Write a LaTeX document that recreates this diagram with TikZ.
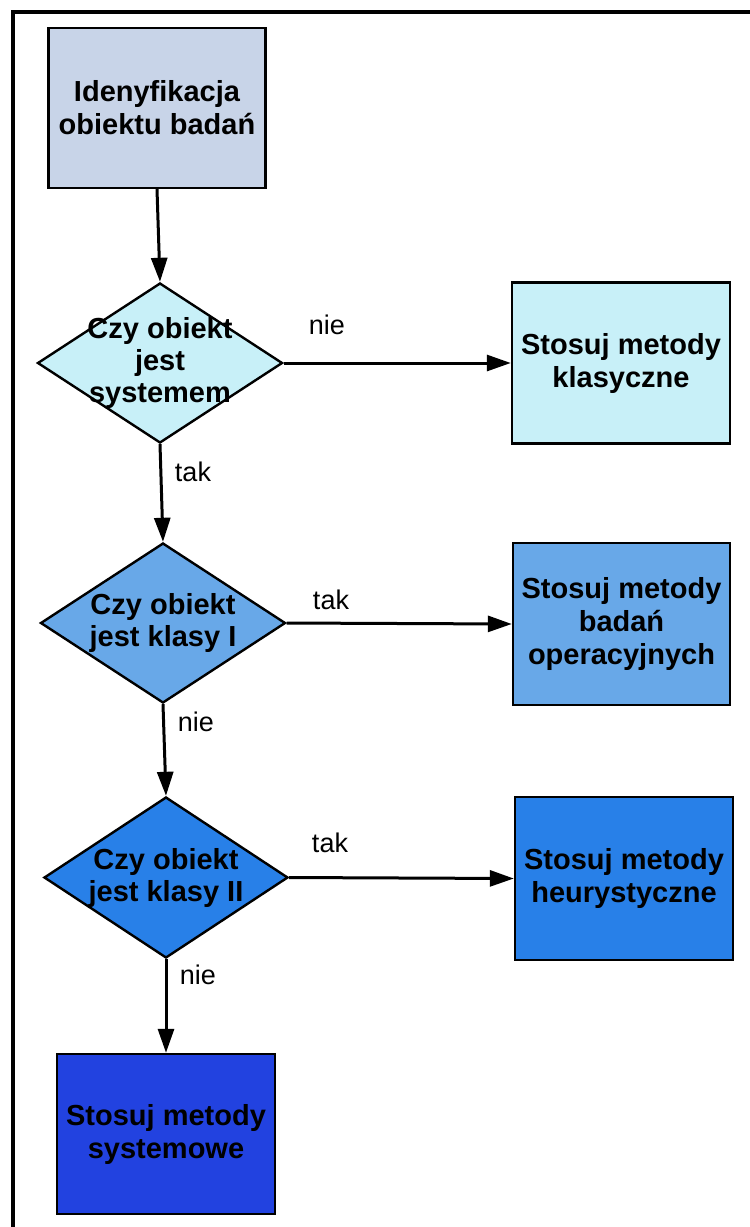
\documentclass[tikz,border=0pt]{standalone}
\usepackage{fontspec}
\setmainfont{Liberation Sans}
\usetikzlibrary{shapes.geometric,arrows.meta}

\definecolor{startfill}{HTML}{C8D4E8}
\definecolor{levelone}{HTML}{C8F0F8}
\definecolor{leveltwo}{HTML}{68A8E8}
\definecolor{levelthree}{HTML}{2880E8}
\definecolor{levelfour}{HTML}{2242E0}

\tikzset{
  stepbox/.style={draw=black, line width=2.4pt, rectangle, inner sep=0pt,
    align=center, font=\bfseries\fontsize{29}{33}\selectfont},
  question/.style={draw=black, line width=2.4pt, diamond, inner sep=0pt},
  qtext/.style={align=center, inner sep=0pt, font=\bfseries\fontsize{29}{32}\selectfont},
  answer/.style={inner sep=0pt, font=\fontsize{27}{30}\selectfont},
  flow/.style={line width=3pt, -{Triangle[length=24pt,width=16pt]}},
  frame/.style={line width=3.2pt}
}

\begin{document}
\begin{tikzpicture}[x=1pt, y=-1pt]
  \useasboundingbox (0,0) rectangle (750,1227);
  \fill[white] (0,0) rectangle (750,1227);

  % open frame: top and left edges only
  \draw[frame] (13,1227) -- (13,12) -- (750,12);

  % process boxes
  \node[stepbox, fill=startfill, minimum width=217pt, minimum height=160pt]
    (start) at (157,108) {Idenyfikacja\\obiektu badań};
  \node[stepbox, fill=levelone, minimum width=218pt, minimum height=161pt]
    (classic) at (621,363) {Stosuj metody\\klasyczne};
  \node[stepbox, fill=leveltwo, minimum width=217pt, minimum height=162pt]
    (operational) at (621.5,624) {Stosuj metody\\badań\\operacyjnych};
  \node[stepbox, fill=levelthree, minimum width=218pt, minimum height=163pt]
    (heuristic) at (624,878.5) {Stosuj metody\\heurystyczne};
  \node[stepbox, fill=levelfour, minimum width=218pt, minimum height=160pt]
    (systemic) at (166,1134) {Stosuj metody\\systemowe};

  % decisions
  \node[question, fill=levelone, minimum width=245pt, minimum height=160pt]
    (q1) at (160,363) {};
  \node[qtext] (q1t) at (q1.center) {Czy obiekt\\jest\\systemem};
  \node[question, fill=leveltwo, minimum width=245pt, minimum height=160pt]
    (q2) at (163,623) {};
  \node[qtext] (q2t) at (q2.center) {Czy obiekt\\jest klasy I};
  \node[question, fill=levelthree, minimum width=244pt, minimum height=161pt]
    (q3) at (166,877.5) {};
  \node[qtext] (q3t) at (q3.center) {Czy obiekt\\jest klasy II};

  % connectors
  \draw[flow] (start.south) -- (q1.north);
  \draw[flow] (q1.east) -- (classic.west);
  \draw[flow] (q1.south) -- (q2.north);
  \draw[flow] (q2.east) -- (operational.west);
  \draw[flow] (q2.south) -- (q3.north);
  \draw[flow] (q3.east) -- (heuristic.west);
  \draw[flow] (q3.south) -- (systemic.north);

  % branch labels
  \node[answer] (a1) at (327,325) {nie};
  \node[answer] (a2) at (193,472) {tak};
  \node[answer] (a3) at (331,600) {tak};
  \node[answer] (a4) at (196,722) {nie};
  \node[answer] (a5) at (330,843) {tak};
  \node[answer] (a6) at (198,975) {nie};
\end{tikzpicture}
\end{document}
